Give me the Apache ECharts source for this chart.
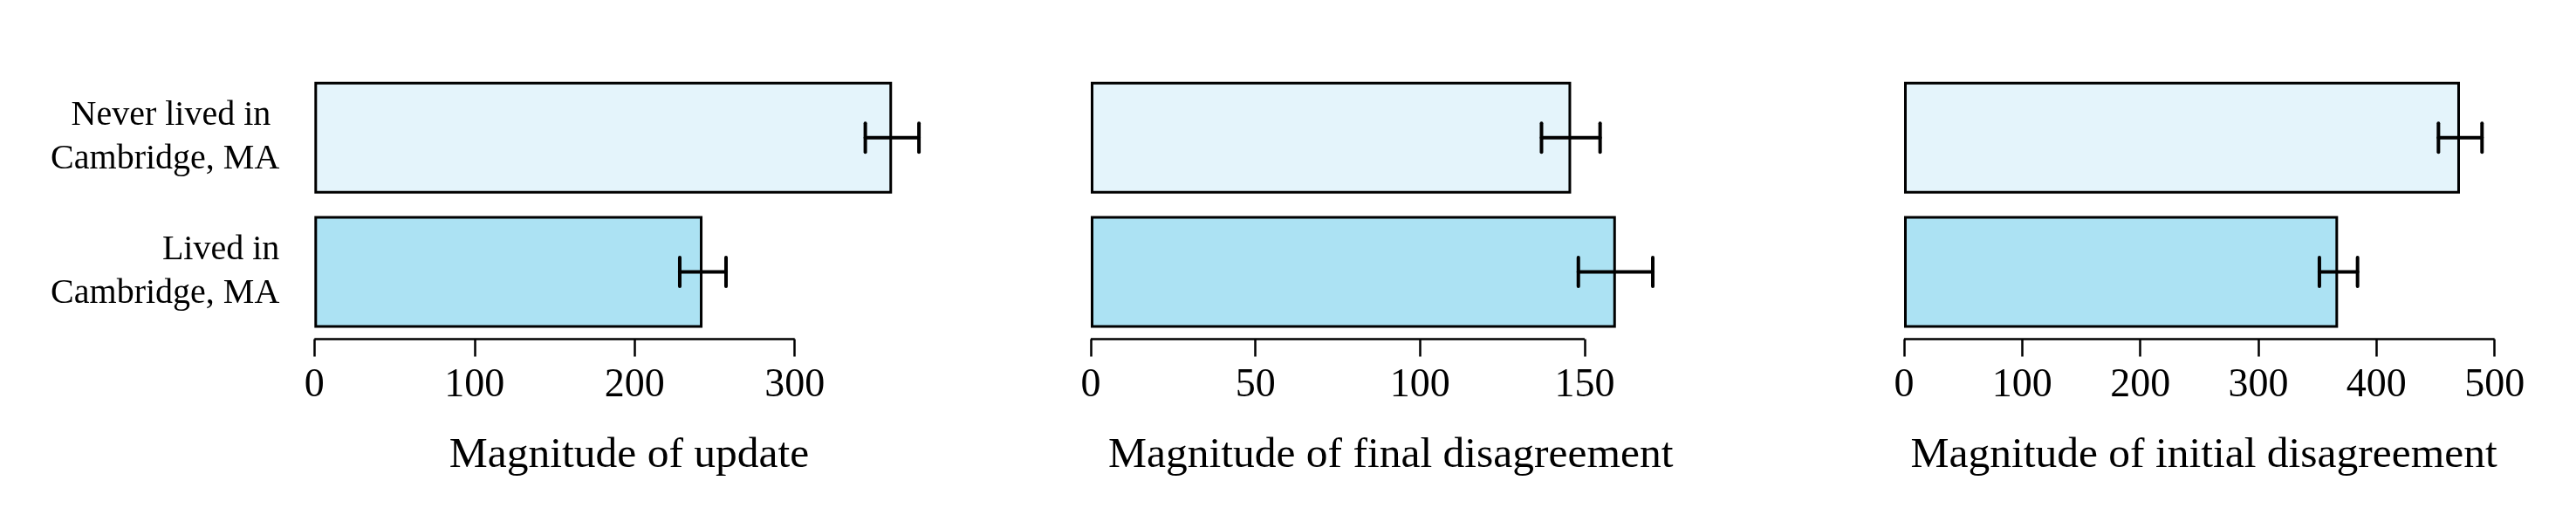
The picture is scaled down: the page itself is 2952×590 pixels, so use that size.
<!DOCTYPE html>
<html>
<head>
<meta charset="utf-8">
<script src="https://cdn.jsdelivr.net/npm/echarts@6/dist/echarts.min.js"></script>
<style>
  html, body { margin: 0; padding: 0; background: #fff; }
  #main { width: 2952px; height: 590px; }
</style>
</head>
<body>
<div id="main"></div>
<script>
// categories, bottom to top
var groups = ['Lived in\nCambridge, MA', 'Never lived in \nCambridge, MA'];
var barColors = ['#ACE2F3', '#E4F4FB'];

// magnitude of update
var updateMean = [242.4, 360.8];
var updateLow = [228.2, 344.1];
var updateHigh = [257.1, 377.6];
var updateTicks = [0, 100, 200, 300];

// magnitude of final disagreement
var finalMean = [159.5, 145.9];
var finalLow = [148.1, 136.9];
var finalHigh = [170.7, 154.7];
var finalTicks = [0, 50, 100, 150];

// magnitude of initial disagreement
var initialMean = [367.5, 470.7];
var initialLow = [351.7, 452.5];
var initialHigh = [384.0, 489.4];
var initialTicks = [0, 100, 200, 300, 400, 500];

var titles = ['Magnitude of update', 'Magnitude of final disagreement', 'Magnitude of initial disagreement'];

var FONT = "'Liberation Serif', 'Times New Roman', serif";

var panels = [
  { mean: updateMean, low: updateLow, high: updateHigh, ticks: updateTicks, left: 360.3, width: 721.4, max: 393.2 },
  { mean: finalMean, low: finalLow, high: finalHigh, ticks: finalTicks, left: 1250, width: 687.4, max: 182.2 },
  { mean: initialMean, low: initialLow, high: initialHigh, ticks: initialTicks, left: 2182, width: 687.2, max: 507.8 }
];

function renderErr(params, api) {
  var y = api.coord([0, api.value(0)])[1];
  var lo = api.coord([api.value(1), api.value(0)])[0];
  var hi = api.coord([api.value(2), api.value(0)])[0];
  var cap = 16.5;
  var st = { stroke: '#000', lineWidth: 4, lineCap: 'round' };
  return {
    type: 'group',
    children: [
      { type: 'line', shape: { x1: lo, y1: y, x2: hi, y2: y }, style: st },
      { type: 'line', shape: { x1: lo, y1: y - cap, x2: lo, y2: y + cap }, style: st },
      { type: 'line', shape: { x1: hi, y1: y - cap, x2: hi, y2: y + cap }, style: st }
    ]
  };
}

// R style axis line: only from first to last tick
function renderBase(params, api) {
  var cs = params.coordSys;
  var yb = cs.y + cs.height;
  var x1 = api.coord([api.value(0), 0])[0];
  var x2 = api.coord([api.value(1), 0])[0];
  return { type: 'line', shape: { x1: x1, y1: yb, x2: x2, y2: yb },
           style: { stroke: '#000', lineWidth: 2.5 } };
}

var grid = [], xAxis = [], yAxis = [], series = [];
panels.forEach(function (p, k) {
  grid.push({ left: p.left, width: p.width, top: 81, height: 307.4, outerBoundsMode: 'none' });
  xAxis.push({
    type: 'value', gridIndex: k, min: 0, max: p.max,
    name: titles[k], nameLocation: 'middle', nameGap: 109,
    nameTextStyle: { fontFamily: FONT, fontSize: 49.5, color: '#000' },
    axisLine: { show: false },
    splitLine: { show: false },
    axisTick: { show: true, length: 20, customValues: p.ticks, lineStyle: { color: '#000', width: 2.5 } },
    axisLabel: { customValues: p.ticks, margin: 31, fontFamily: FONT, fontSize: 46, color: '#000' }
  });
  yAxis.push({
    type: 'category', gridIndex: k, data: groups,
    axisLine: { show: false }, axisTick: { show: false }, splitLine: { show: false },
    axisLabel: { show: k === 0, margin: 40, fontFamily: FONT, fontSize: 40, lineHeight: 50, color: '#000', align: 'right' }
  });
  series.push({
    type: 'bar', xAxisIndex: k, yAxisIndex: k, barWidth: 128,
    data: p.mean.map(function (v, i) {
      return { value: v, itemStyle: { color: barColors[i], borderColor: '#000', borderWidth: 3 } };
    })
  });
  series.push({
    type: 'custom', xAxisIndex: k, yAxisIndex: k, z: 4,
    renderItem: renderErr,
    encode: { x: [1, 2], y: 0 },
    data: p.mean.map(function (v, i) { return [i, p.low[i], p.high[i]]; })
  });
  series.push({
    type: 'custom', xAxisIndex: k, yAxisIndex: k, z: 4,
    renderItem: renderBase,
    encode: { x: [0, 1], y: 2 },
    data: [[p.ticks[0], p.ticks[p.ticks.length - 1], 0]]
  });
});

var chart = echarts.init(document.getElementById('main'));
chart.setOption({
  animation: false,
  backgroundColor: '#fff',
  grid: grid,
  xAxis: xAxis,
  yAxis: yAxis,
  series: series
});
</script>
</body>
</html>
